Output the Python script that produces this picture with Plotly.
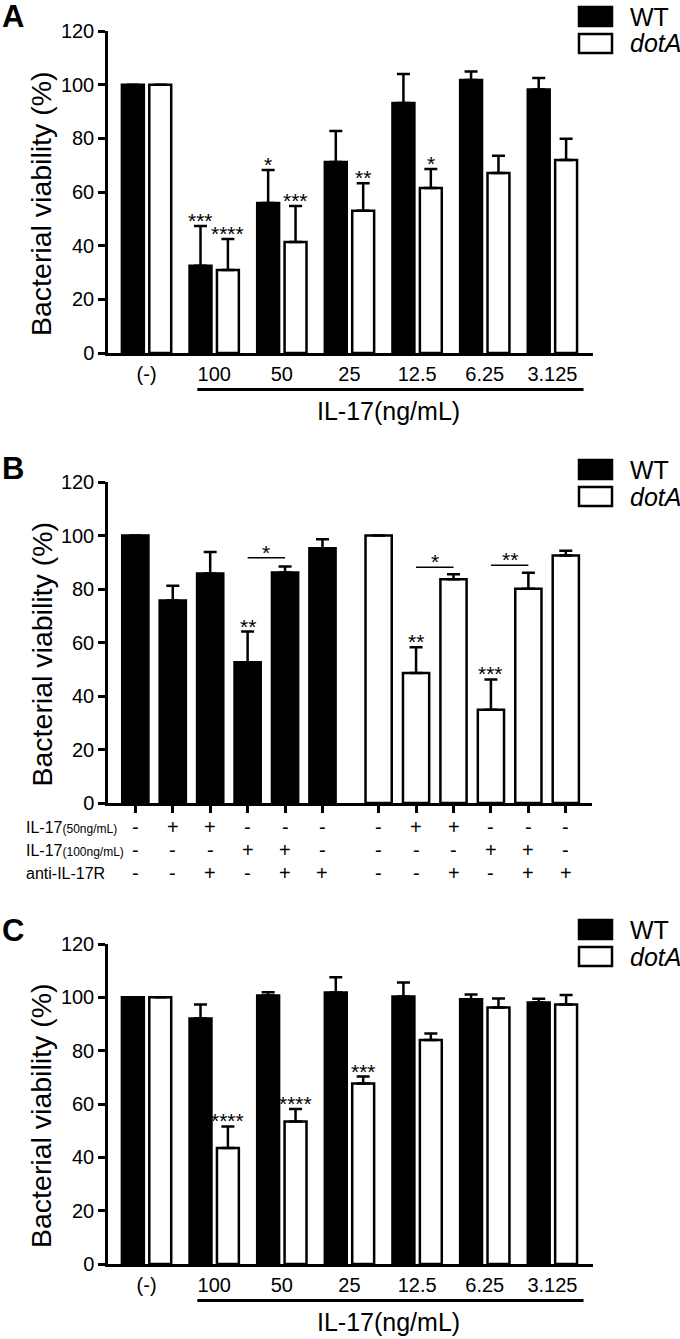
import plotly.graph_objects as go

# ---------------- data ----------------
categories = ["(-)", "100", "50", "25", "12.5", "6.25", "3.125"]

wt_A = [100, 32.5, 55.9, 71.2, 93.2, 101.7, 98.2]
wt_A_sd = [0, 14.8, 12.3, 11.5, 10.8, 3.2, 4.3]
dot_A = [100, 30.9, 41.4, 53.0, 61.5, 67.1, 71.9]
dot_A_sd = [0, 11.6, 13.4, 10.3, 7.1, 6.4, 7.9]
wt_A_sig = ["", "***", "*", "", "", "", ""]
dot_A_sig = ["", "****", "***", "**", "*", "", ""]

wt_B = [100, 75.7, 85.8, 52.6, 86.2, 95.2]
wt_B_sd = [0, 5.5, 8.0, 11.5, 2.2, 3.4]
dot_B = [100, 48.6, 83.6, 34.9, 80.1, 92.5]
dot_B_sd = [0, 9.6, 1.9, 11.3, 6.0, 1.8]
wt_B_sig = ["", "", "", "**", "", ""]
dot_B_sig = ["", "**", "", "***", "", ""]
il17_50 = ["-", "+", "+", "-", "-", "-"]
il17_100 = ["-", "-", "-", "+", "+", "-"]
anti_il17r = ["-", "-", "+", "-", "+", "+"]
# brackets: (group, first bar, second bar, height, label)
brackets_B = [("WT", 3, 4, 91.7, "*"), ("dotA", 1, 2, 88.1, "*"), ("dotA", 3, 4, 88.9, "**")]

wt_C = [100, 92.1, 100.7, 101.8, 100.3, 99.3, 98.1]
wt_C_sd = [0, 5.2, 1.2, 5.7, 5.3, 1.8, 1.4]
dot_C = [100, 43.5, 53.4, 67.7, 84.0, 96.2, 97.3]
dot_C_sd = [0, 8.1, 4.7, 2.6, 2.4, 3.4, 3.6]
wt_C_sig = ["", "", "", "", "", "", ""]
dot_C_sig = ["", "****", "****", "***", "", "", ""]

# ---------------- layout helpers ----------------
W, H = 680, 1339
FONT = "Arial, 'Liberation Sans', Helvetica, sans-serif"


def fx(p):
    return p / W


def fy(p):
    return 1 - p / H


BARGAP = 0.19
BARGROUPGAP = 0.2
XL, XR = 108, 593
XRANGE = [-0.57, 6.6]
unit_px = (XR - XL) / (XRANGE[1] - XRANGE[0])
slot_off = (1 - BARGAP) / 4 * unit_px  # px offset of each bar from group centre

fig = go.Figure()
annotations = []
shapes = []


def err(sd):
    return dict(type="data", array=sd, arrayminus=[0] * len(sd), symmetric=False,
                color="black", thickness=2.5, width=6.5)


def star(x, y, text, xref, yref, xshift=0):
    annotations.append(dict(x=x, y=y, xref=xref, yref=yref, text=text, showarrow=False,
                            xshift=xshift, yanchor="bottom", yshift=-8,
                            font=dict(size=21, color="black", family=FONT)))


def legend(top_px):
    for i, (name, fill, ital) in enumerate([("WT", "black", False), ("dotA", "white", True)]):
        y0 = top_px + i * 27
        shapes.append(dict(type="rect", xref="paper", yref="paper", x0=fx(579), x1=fx(612),
                           y0=fy(y0 + 20), y1=fy(y0 + 1), fillcolor=fill,
                           line=dict(color="black", width=2.5)))
        annotations.append(dict(x=fx(628), y=fy(y0 + 10.5), xref="paper", yref="paper",
                                text=("<i>%s</i>" % name) if ital else name, showarrow=False,
                                xanchor="left", yanchor="middle",
                                font=dict(size=25, color="black", family=FONT)))


def panel_letter(letter, cy):
    annotations.append(dict(x=fx(0), y=fy(cy), xref="paper", yref="paper", text="<b>%s</b>" % letter,
                            showarrow=False, xanchor="left", yanchor="middle",
                            font=dict(size=31, color="black", family=FONT)))


def ytitle(top, bottom):
    annotations.append(dict(x=fx(41), y=fy((top + bottom) / 2 + 12), xref="paper", yref="paper",
                            text="Bacterial viability (%)", textangle=-90, showarrow=False,
                            xanchor="center", yanchor="middle",
                            font=dict(size=28.5, color="black", family=FONT)))


axis_common = dict(showline=True, linecolor="black", linewidth=2.5, showgrid=False, zeroline=False,
                   fixedrange=True)

panels = {}


def grouped_panel(idx, top, bottom, wt, wt_sd, dot, dot_sd, wt_sig, dot_sig, letter):
    xa = "x" if idx == 1 else "x%d" % idx
    ya = "y" if idx == 1 else "y%d" % idx
    fig.add_trace(go.Bar(x=categories, y=wt, name="WT", xaxis=xa, yaxis=ya, showlegend=False,
                         marker=dict(color="black", line=dict(color="black", width=2.5)),
                         error_y=err(wt_sd)))
    fig.add_trace(go.Bar(x=categories, y=dot, name="dotA", xaxis=xa, yaxis=ya, showlegend=False,
                         marker=dict(color="white", line=dict(color="black", width=2.5)),
                         error_y=err(dot_sd)))
    panels[idx] = dict(
        xaxis=dict(domain=[fx(XL), fx(XR)], anchor=ya, type="category", range=XRANGE,
                   categoryorder="array", categoryarray=categories, ticks="", ticklabelstandoff=1,
                   tickfont=dict(size=20, color="black", family=FONT), **axis_common),
        yaxis=dict(domain=[fy(bottom), fy(top)], anchor=xa, range=[0, 120], tick0=0, dtick=20,
                   ticks="outside", ticklen=7, tickwidth=2.5, tickcolor="black",
                   tickfont=dict(size=20, color="black", family=FONT), **axis_common))
    for i, (v, s, t) in enumerate(zip(wt, wt_sd, wt_sig)):
        if t:
            star(i, v + s, t, xa, ya, -slot_off)
    for i, (v, s, t) in enumerate(zip(dot, dot_sd, dot_sig)):
        if t:
            star(i, v + s, t, xa, ya, slot_off)
    # underline + title
    shapes.append(dict(type="line", xref=xa, yref="paper", x0=0.75, x1=6.46,
                       y0=fy(bottom + 36.5), y1=fy(bottom + 36.5), line=dict(color="black", width=3)))
    annotations.append(dict(x=fx(388), y=fy(bottom + 58), xref="paper", yref="paper",
                            text="IL-17(ng/mL)", showarrow=False, xanchor="center", yanchor="middle",
                            font=dict(size=25, color="black", family=FONT)))
    legend(top - 25)
    panel_letter(letter, top - 14)
    ytitle(top, bottom)


grouped_panel(1, 31, 353, wt_A, wt_A_sd, dot_A, dot_A_sd, wt_A_sig, dot_A_sig, "A")
grouped_panel(3, 944, 1264, wt_C, wt_C_sd, dot_C, dot_C_sd, wt_C_sig, dot_C_sig, "C")

# ---------------- panel B ----------------
B_TOP, B_BOT = 482, 803
pos_wt = [float(i) for i in range(len(wt_B))]
pos_dot = [i + len(wt_B) + 0.5 for i in range(len(dot_B))]
BW = 0.7
fig.add_trace(go.Bar(x=pos_wt, y=wt_B, name="WT", xaxis="x2", yaxis="y2", showlegend=False,
                     width=BW, offset=-BW / 2,
                     marker=dict(color="black", line=dict(color="black", width=2.5)),
                     error_y=err(wt_B_sd)))
fig.add_trace(go.Bar(x=pos_dot, y=dot_B, name="dotA", xaxis="x2", yaxis="y2", showlegend=False,
                     width=BW, offset=-BW / 2,
                     marker=dict(color="white", line=dict(color="black", width=2.5)),
                     error_y=err(dot_B_sd)))
panels[2] = dict(
    xaxis=dict(domain=[fx(108), fx(592)], anchor="y2", range=[-0.73, 12.2],
               tickvals=pos_wt + pos_dot, ticks="outside", ticklen=7, tickwidth=2.5, tickcolor="black",
               showticklabels=False, **axis_common),
    yaxis=dict(domain=[fy(B_BOT), fy(B_TOP)], anchor="x2", range=[0, 120], tick0=0, dtick=20,
               ticks="outside", ticklen=7, tickwidth=2.5, tickcolor="black",
               tickfont=dict(size=20, color="black", family=FONT), **axis_common))
for p, v, s, t in zip(pos_wt, wt_B, wt_B_sd, wt_B_sig):
    if t:
        star(p, v + s, t, "x2", "y2")
for p, v, s, t in zip(pos_dot, dot_B, dot_B_sd, dot_B_sig):
    if t:
        star(p, v + s, t, "x2", "y2")
for grp, a, b, h, t in brackets_B:
    pos = pos_wt if grp == "WT" else pos_dot
    shapes.append(dict(type="line", xref="x2", yref="y2", x0=pos[a], x1=pos[b], y0=h, y1=h,
                       line=dict(color="black", width=1.5)))
    star((pos[a] + pos[b]) / 2, h, t, "x2", "y2")

rows = [("IL-17<span style='font-size:12px'>(50ng/mL)</span>", il17_50, 827),
        ("IL-17<span style='font-size:12px'>(100ng/mL)</span>", il17_100, 850),
        ("anti-IL-17R", anti_il17r, 873)]
for label, signs, ypx in rows:
    annotations.append(dict(x=fx(24), y=fy(ypx), xref="paper", yref="paper", text=label,
                            showarrow=False, xanchor="left", yanchor="middle",
                            font=dict(size=16, color="black", family=FONT)))
    for p, sgn in zip(pos_wt + pos_dot, signs + signs):
        annotations.append(dict(x=p, y=fy(ypx), xref="x2", yref="paper", text=sgn,
                                showarrow=False, xanchor="center", yanchor="middle",
                                font=dict(size=20, color="black", family=FONT)))
legend(B_TOP - 23)
panel_letter("B", B_TOP - 13)
ytitle(B_TOP, B_BOT)

fig.update_layout(
    width=W, height=H, template="none", margin=dict(l=0, r=0, t=0, b=0),
    paper_bgcolor="white", plot_bgcolor="white", showlegend=False,
    barmode="group", bargap=BARGAP, bargroupgap=BARGROUPGAP,
    font=dict(family=FONT, color="black"),
    xaxis=panels[1]["xaxis"], yaxis=panels[1]["yaxis"],
    xaxis2=panels[2]["xaxis"], yaxis2=panels[2]["yaxis"],
    xaxis3=panels[3]["xaxis"], yaxis3=panels[3]["yaxis"],
    annotations=annotations, shapes=shapes,
)

fig.write_html("out.html", config={"displayModeBar": False},
               post_script="document.body.style.margin='0px';")
